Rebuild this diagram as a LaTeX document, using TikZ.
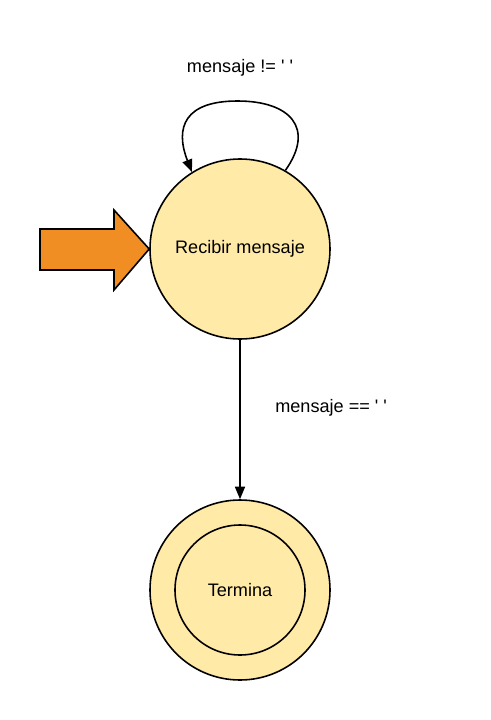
\documentclass[tikz,border=0pt]{standalone}
\usepackage{fontspec}
\setmainfont{Liberation Sans}
\usepackage{xcolor}
\usetikzlibrary{arrows.meta, positioning}
\definecolor{relleno}{HTML}{FFEAA7}
\definecolor{naranja}{HTML}{F08E24}
\tikzset{
  estado/.style={circle, draw=black, line width=0.9pt, fill=relleno,
    minimum size=3.6cm, inner sep=0pt, font=\fontsize{10.3}{12}\selectfont},
  interior/.style={circle, draw=black, line width=0.9pt, fill=relleno,
    minimum size=2.6cm, inner sep=0pt, font=\fontsize{10.3}{12}\selectfont},
  flecha/.style={-{Triangle[length=2.5mm, width=2mm]}, line width=0.9pt},
  entrada/.style={draw=black, line width=0.9pt, fill=naranja, line join=miter},
  etiqueta/.style={font=\fontsize{10.3}{12}\selectfont, inner sep=0pt}
}
\newcommand{\comilla}{\textquotesingle}
\begin{document}
\begin{tikzpicture}
  \useasboundingbox (0, 0) rectangle (9.8, -14.4);

  \node[estado] (recibir) at (4.8, -4.98) {Recibir mensaje};
  \node[estado] (termina) at (4.8, -11.8) {};
  \node[interior] (terminaint) at (termina) {Termina};

  % flecha de inicio
  \draw[entrada] (0.8, -4.58) -- (2.28, -4.58) -- (2.28, -4.2) -- (recibir.west)
    -- (2.28, -5.8) -- (2.28, -5.4) -- (0.8, -5.4) -- cycle;

  \coordinate (cima) at (4.75, -2.02);
  \draw[flecha] (recibir.60) .. controls +(0.6, 0.85) and +(1.05, 0) .. (cima)
    .. controls +(-1.05, 0) and +(-0.35, 0.9) .. (recibir.122);
  \node[etiqueta] (nodistinto) at (4.8, -1.36) {mensaje != \comilla\ \comilla};

  \draw[flecha] (recibir) -- (termina);
  \node[etiqueta, anchor=west] (igual) at (5.5, -8.16) {mensaje == \comilla\ \comilla};
\end{tikzpicture}
\end{document}
